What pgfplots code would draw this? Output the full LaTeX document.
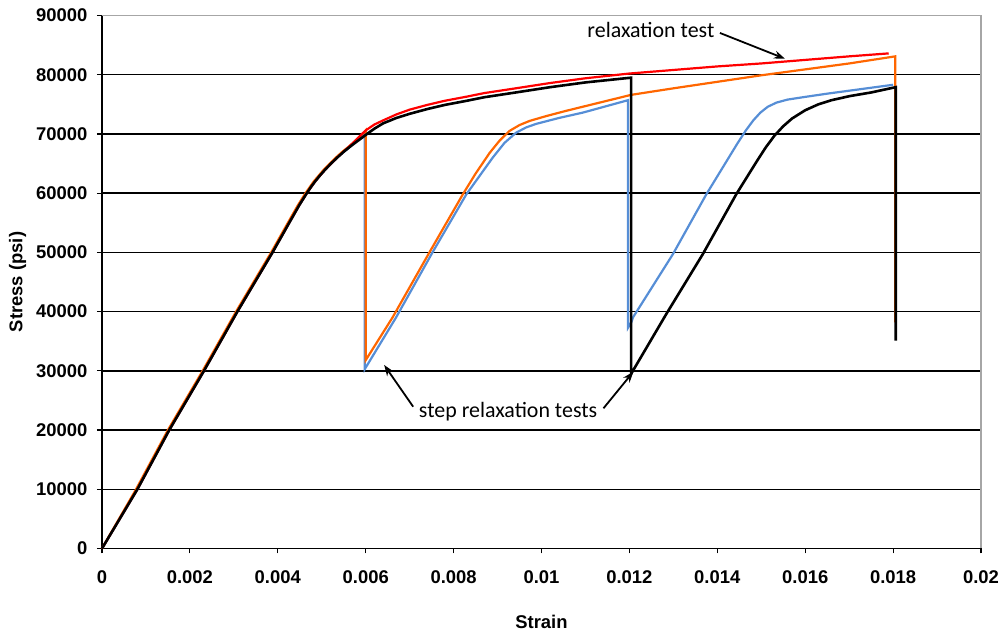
\documentclass[border=0pt]{standalone}
\usepackage{fontspec}
\setmainfont{Liberation Sans}
\newfontfamily\calibri{Carlito}
\usepackage{pgfplots}
\pgfplotsset{compat=1.18}
\usetikzlibrary{arrows.meta}

\definecolor{cRed}{RGB}{255,0,0}
\definecolor{cOrange}{RGB}{255,102,0}
\definecolor{cBlue}{RGB}{86,142,214}

\begin{document}
\begin{tikzpicture}
\begin{axis}[
    name=ax,
    scale only axis,
    width=879bp, height=533bp,
    xmin=0, xmax=0.02, ymin=0, ymax=90000,
    axis lines=left,
    axis line style={-, black, line width=1.8bp},
    scaled x ticks=false, scaled y ticks=false,
    xtick={0,0.002,0.004,0.006,0.008,0.01,0.012,0.014,0.016,0.018,0.02},
    xticklabels={0,0.002,0.004,0.006,0.008,0.01,0.012,0.014,0.016,0.018,0.02},
    ytick={0,10000,20000,30000,40000,50000,60000,70000,80000,90000},
    yticklabels={0,10000,20000,30000,40000,50000,60000,70000,80000,90000},
    tick align=outside,
    major tick length=5bp,
    tick style={black, line width=1.2bp},
    ymajorgrids,
    major grid style={black, line width=1.5bp},
    tick label style={font=\fontsize{18.5}{20}\selectfont\bfseries},
    /pgf/number format/assume math mode=true,
    xticklabel style={yshift=-14bp},
    yticklabel style={xshift=-6bp},
    xlabel={\fontsize{18.5}{20}\selectfont\bfseries Strain},
    ylabel={\fontsize{18.5}{20}\selectfont\bfseries Stress (psi)},
    xlabel style={at={(axis description cs:0.5,-0.137)}, anchor=center},
    ylabel style={at={(axis description cs:-0.096,0.5)}, anchor=center},
    clip=false,
    ]
% blue: step test (relax at 0.006 and 0.012)
\addplot[cBlue, line width=2.2bp] coordinates {
    (0,0) (0.000805,10000) (0.00153,20000) (0.00232,30000) (0.00308,40000)
    (0.00388,50000) (0.00426,55000) (0.00449,58000) (0.00466,60000)
    (0.00485,62000) (0.00508,64000) (0.00535,66000) (0.00567,68000)
    (0.00598,69900)
    (0.00598,30300)
    (0.00669,39000) (0.00752,50000) (0.00829,59800) (0.00889,66000)
    (0.00916,68500) (0.00942,70200) (0.00965,71100) (0.00988,71700)
    (0.0104,72700) (0.01094,73600) (0.01197,75700)
    (0.01197,37300) (0.01205,38300)
    (0.01208,39000) (0.01299,49700) (0.01375,59800) (0.01445,68300)
    (0.01465,70600) (0.01482,72300) (0.01498,73600) (0.01515,74600)
    (0.01535,75300) (0.0156,75800) (0.01595,76200) (0.0165,76800)
    (0.0172,77500) (0.018,78300)
};
% orange: step test (relax at 0.006 and 0.018)
\addplot[cOrange, line width=2.2bp] coordinates {
    (0,0) (0.000775,10000) (0.0015,20000) (0.00229,30000) (0.00305,40000)
    (0.00385,50000) (0.00423,55000) (0.00446,58000) (0.00463,60000)
    (0.00482,62000) (0.00505,64000) (0.00532,66000) (0.00547,67000)
    (0.00564,68000) (0.00582,69200) (0.006,70600)
    (0.006,31800)
    (0.00661,39000) (0.00745,50000) (0.00821,59800) (0.0085,63300)
    (0.00882,66800) (0.00905,68900) (0.00927,70500) (0.0095,71500)
    (0.00973,72200) (0.0101,73000) (0.01056,73900) (0.01204,76600)
    (0.013,77700) (0.014,78800) (0.015,79900) (0.016,80900)
    (0.017,81900) (0.01805,83100)
    (0.01805,38200)
};
% red: relaxation test
\addplot[cRed, line width=2.2bp] coordinates {
    (0,0) (0.000805,10000) (0.00153,20000) (0.00232,30000) (0.00308,40000)
    (0.00388,50000) (0.00426,55000) (0.00449,58000) (0.00466,60000)
    (0.00485,62000) (0.00508,64000) (0.00535,66000) (0.00567,68200)
    (0.00585,69500) (0.006,70600) (0.0062,71600) (0.0064,72300)
    (0.0067,73300) (0.007,74100) (0.0074,74900) (0.0078,75600)
    (0.0083,76300) (0.0087,76900) (0.0095,77800) (0.0102,78600)
    (0.011,79400) (0.012,80200) (0.013,80800) (0.014,81400)
    (0.015,81900) (0.016,82500) (0.017,83100) (0.0179,83600)
};
% black: step test (relax at 0.012 and 0.018)
\addplot[black, line width=2.6bp] coordinates {
    (0,0) (0.000805,10000) (0.00153,20000) (0.00232,30000) (0.00308,40000)
    (0.00388,50000) (0.00426,55000) (0.00449,58000) (0.00466,60000)
    (0.00475,61000) (0.00485,62000) (0.00496,63000) (0.00508,64000)
    (0.00521,65000) (0.00535,66000) (0.0055,67000) (0.00567,68000)
    (0.00585,69000) (0.00603,70000) (0.0062,70900) (0.0064,71800)
    (0.0067,72700) (0.007,73400) (0.0074,74200) (0.0078,74900)
    (0.0083,75600) (0.0087,76200) (0.0095,77100) (0.0102,77900)
    (0.011,78700) (0.01204,79500)
    (0.01204,29500)
    (0.01284,39600) (0.01367,49700) (0.01443,59800) (0.0149,65400)
    (0.0151,67700) (0.0153,69700) (0.0155,71300) (0.0157,72600)
    (0.016,74000) (0.0163,75000) (0.0166,75700) (0.01702,76400)
    (0.0175,77000) (0.01806,77900)
    (0.01806,35100)
};
% gray outer border (top and right)
\draw[gray!70, line width=1.8bp] (rel axis cs:0,1) -- (rel axis cs:1,1) -- (rel axis cs:1,0);
% annotations
\node[font=\calibri\fontsize{22}{24}\selectfont] at (axis cs:0.01249,87550) {relaxation test};
\draw[black, line width=1.8bp, -{Stealth[length=11bp,width=8bp]}]
    (axis cs:0.01406,87050) -- (axis cs:0.01554,82700);
\node[font=\calibri\fontsize{22}{24}\selectfont] at (axis cs:0.00924,23050) {step relaxation tests};
\draw[black, line width=1.8bp, -{Stealth[length=11bp,width=8bp]}]
    (axis cs:0.00708,23940) -- (axis cs:0.00642,30990);
\draw[black, line width=1.8bp, -{Stealth[length=11bp,width=8bp]}]
    (axis cs:0.01141,23670) -- (axis cs:0.01209,29850);
\end{axis}
\pgfresetboundingbox
\path ([shift={(-102bp,-85.5bp)}]ax.south west) rectangle ([shift={(26bp,15.5bp)}]ax.north east);
\end{tikzpicture}
\end{document}
